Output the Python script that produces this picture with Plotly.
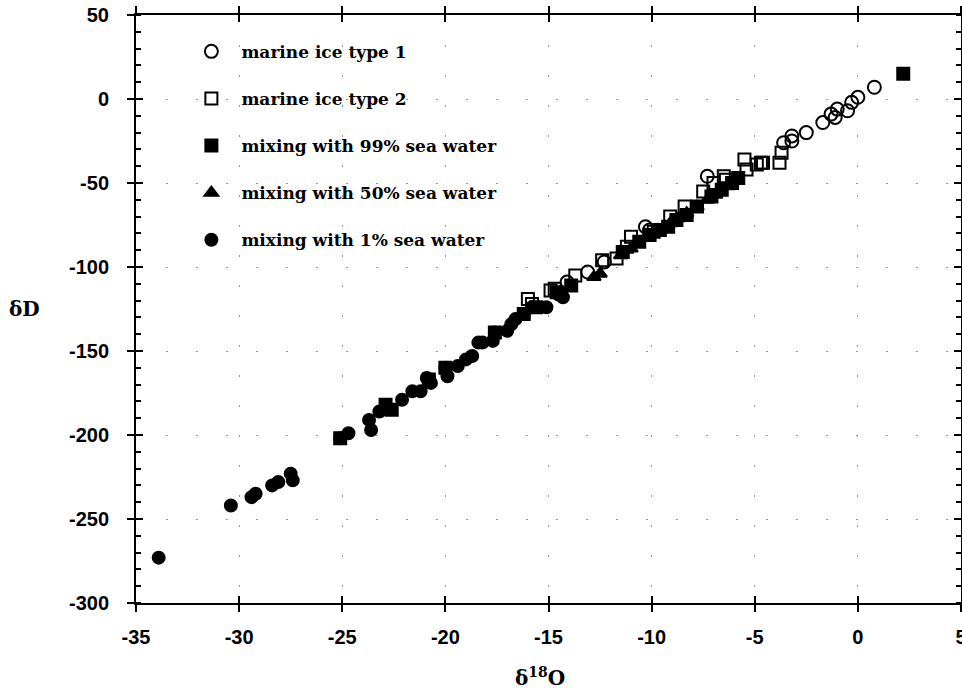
import plotly.graph_objects as go

# ---------------- data ----------------
type1_x = [-14.5, -14.1, -13.1, -12.3, -10.3, -10.1, -7.3, -3.6, -3.2, -3.2,
           -2.5, -1.7, -1.3, -1.1, -1.0, -0.5, -0.3, 0.0, 0.8]
type1_y = [-116, -109, -103, -97, -76, -78, -46, -26, -22, -25,
           -20, -14, -9, -11, -6, -7, -2, 1, 7]

type2_x = [-16.0, -15.8, -14.9, -14.7, -13.7, -12.4, -11.7, -11.2, -11.0, -9.9,
           -9.1, -8.4, -7.5, -7.0, -6.5, -6.4, -5.5, -5.4, -4.9, -4.7, -4.6, -3.8, -3.7]
type2_y = [-119, -122, -114, -113, -105, -96, -95, -88, -82, -79,
           -70, -64, -55, -50, -46, -48, -36, -42, -39, -38, -38, -38, -32]

sw99_x = [-25.1, -22.9, -22.6, -20.8, -20.0, -17.6, -16.2, -15.6, -14.6, -13.9,
          -11.4, -10.6, -10.1, -9.6, -9.2, -8.8, -8.3, -7.8, -7.1, -6.6, -6.1, -5.8, 2.2]
sw99_y = [-202, -182, -185, -167, -160, -139, -128, -124, -115, -111,
          -91, -85, -81, -78, -76, -72, -69, -64, -58, -54, -50, -47, 15]

sw50_x = [-12.8, -12.5, -11.5, -11.0, -10.2, -9.7, -9.1, -8.7, -8.3, -7.8, -7.3, -6.9, -6.3, -5.9]
sw50_y = [-106, -104, -93, -89, -81, -78, -74, -71, -68, -64, -60, -57, -52, -48]

sw1_x = [-33.9, -30.4, -29.4, -29.2, -28.4, -28.1, -27.5, -27.4, -25.1, -24.7,
         -23.7, -23.6, -23.2, -22.9, -22.1, -21.6, -21.2, -20.9, -20.7, -20.0,
         -19.9, -19.4, -19.0, -18.7, -18.4, -18.2, -17.7, -17.6, -17.0, -16.8,
         -16.6, -16.2, -15.8, -15.1, -14.3]
sw1_y = [-273, -242, -237, -235, -230, -228, -223, -227, -202, -199,
         -191, -197, -186, -183, -179, -174, -174, -166, -169, -160,
         -165, -159, -155, -153, -145, -145, -144, -139, -138, -134,
         -131, -128, -124, -124, -118]

series_names = ["marine ice type 1", "marine ice type 2", "mixing with 99% sea water",
                "mixing with 50% sea water", "mixing with 1% sea water"]

x_tick_vals = [-35, -30, -25, -20, -15, -10, -5, 0, 5]
x_tick_labels = ["-35", "-30", "-25", "-20", "-15", "-10", "-5", "0", "5"]
y_tick_vals = [-300, -250, -200, -150, -100, -50, 0, 50]
y_tick_labels = ["-300", "-250", "-200", "-150", "-100", "-50", "0", "50"]

x_range = [-35, 5]
y_range = [-300, 50]
x_title = "δ<sup>18</sup>O"
y_title = "δD"

# ---------------- figure ----------------
fig = go.Figure()

series = [
    (type1_x, type1_y, "circle-open", 13),
    (type2_x, type2_y, "square-open", 12),
    (sw99_x, sw99_y, "square", 12),
    (sw50_x, sw50_y, "triangle-up", 12),
    (sw1_x, sw1_y, "circle", 12),
]
for i, ((xs, ys, sym, sz), name) in enumerate(zip(series, series_names)):
    fig.add_trace(go.Scatter(
        x=xs, y=ys, mode="markers", name=name, legendgroup=f"g{i}",
        marker=dict(symbol=sym, size=sz, color="black",
                    line=dict(color="black", width=2)),
    ))

# empty trace so the overlay axes (inner halves of crossing ticks) get drawn
fig.add_trace(go.Scatter(x=[], y=[], xaxis="x2", yaxis="y2", showlegend=False,
                         hoverinfo="skip"))

tickfont = dict(family="Liberation Sans", size=20, color="black", weight="bold")
serif_bold = dict(family="DejaVu Serif", size=17, color="black", weight="bold")

fig.update_layout(
    width=962, height=690,
    margin=dict(l=136, r=1, t=15, b=87),
    paper_bgcolor="white", plot_bgcolor="white",
    showlegend=True,
    legend=dict(x=0.055, y=0.968, xanchor="left", yanchor="top",
                font=serif_bold, bgcolor="rgba(0,0,0,0)",
                traceorder="grouped", tracegroupgap=22, itemwidth=50),
    xaxis=dict(range=x_range, tickmode="array", tickvals=x_tick_vals,
               ticktext=x_tick_labels, ticks="outside", ticklen=7,
               tickwidth=2, tickcolor="black", showline=True, linewidth=2,
               linecolor="black", mirror="allticks", zeroline=False,
               showgrid=True, gridcolor="#999", gridwidth=1, griddash="2px,28px",
               tickfont=tickfont, ticklabelstandoff=8, automargin=False,
               ticklabeloverflow="allow"),
    yaxis=dict(range=y_range, tickmode="array", tickvals=y_tick_vals,
               ticktext=y_tick_labels, ticks="outside", ticklen=7,
               tickwidth=2, tickcolor="black", showline=True, linewidth=2,
               linecolor="black", mirror="allticks", zeroline=False,
               showgrid=True, gridcolor="#999", gridwidth=1, griddash="2px,28px",
               tickfont=tickfont, ticklabelstandoff=14, automargin=False,
               ticklabeloverflow="allow",
               minor=dict(tickmode="linear", tick0=-300, dtick=10, ticks="inside",
                          ticklen=5, tickwidth=1.5, tickcolor="black", showgrid=False)),
    xaxis2=dict(range=x_range, overlaying="x", anchor="y2", tickmode="array",
                tickvals=x_tick_vals,
                ticks="inside", ticklen=7, tickwidth=2, tickcolor="black",
                showline=False, mirror="allticks", showgrid=False, zeroline=False,
                showticklabels=False, automargin=False),
    yaxis2=dict(range=y_range, overlaying="y", anchor="x2", tickmode="array",
                tickvals=y_tick_vals,
                ticks="inside", ticklen=7, tickwidth=2, tickcolor="black",
                showline=False, mirror="allticks", showgrid=False, zeroline=False,
                showticklabels=False, automargin=False),
    annotations=[
        dict(text=x_title, xref="paper", yref="paper", x=0.49, y=-0.125,
             xanchor="center", yanchor="middle", showarrow=False,
             font=dict(family="DejaVu Serif", size=20, color="black", weight="bold")),
        dict(text=y_title, xref="paper", yref="paper", x=-0.135, y=0.5,
             xanchor="center", yanchor="middle", showarrow=False,
             font=dict(family="DejaVu Serif", size=20, color="black", weight="bold")),
    ],
)

# remove the browser's default 8px body margin so the figure starts at (0, 0)
fig.write_html("out.html", config={"displayModeBar": False},
               post_script="document.body.style.margin='0';document.body.style.overflow='hidden';")
